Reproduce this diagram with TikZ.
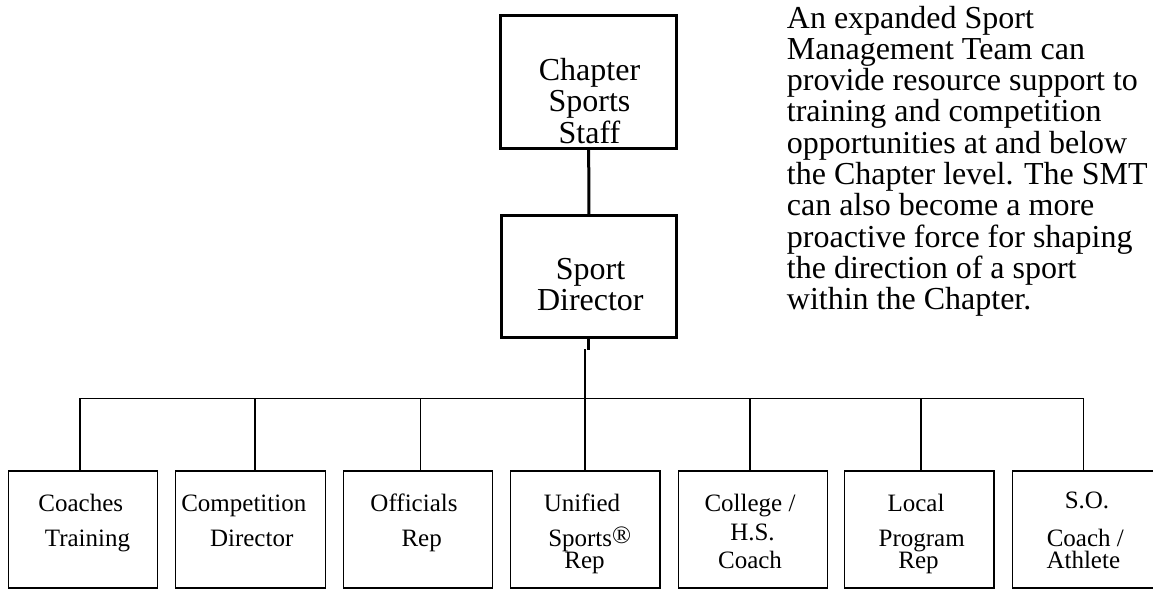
\documentclass[tikz,border=0pt]{standalone}
\usepackage{fontspec}
\setmainfont{Liberation Serif}
\usetikzlibrary{calc}
\begin{document}
\begin{tikzpicture}[x=1pt,y=-1pt,
  topbox/.style={draw,line width=3pt,inner sep=0pt},
  lowbox/.style={draw,line width=1.4pt,inner sep=0pt,minimum width=149.5pt,minimum height=117pt},
  heavy/.style={line width=3pt},
  light/.style={line width=1.4pt},
  bigtxt/.style={inner sep=0pt,anchor=base,font=\fontsize{32}{32}\selectfont},
  smalltxt/.style={inner sep=0pt,anchor=base,font=\fontsize{25}{25}\selectfont},
  para/.style={inner sep=0pt,anchor=base west,font=\fontsize{32}{32}\selectfont}]
\useasboundingbox (0,0) rectangle (1153,589);
\clip (0,0) rectangle (1153,589);

% upper boxes
\node[topbox,minimum width=176pt,minimum height=132.3pt] (cs) at (588.7,81.85) {};
\node[topbox,minimum width=174.3pt,minimum height=121.6pt] (sd) at (588.85,276.5) {};

% lower row of boxes
\node[lowbox] (b1) at (83,529.5) {};
\node[lowbox] (b2) at (250.5,529.5) {};
\node[lowbox] (b3) at (418,529.5) {};
\node[lowbox] (b4) at (585.2,529.5) {};
\node[lowbox] (b5) at (753,529.5) {};
\node[lowbox] (b6) at (919.2,529.5) {};
\node[lowbox] (b7) at (1087.3,529.5) {};

% connectors
\draw[heavy] (cs.south) -- (sd.north);
\coordinate (stub) at ($(sd.south)+(0,11)$);
\draw[heavy] (sd.south) -- (stub);

\coordinate (d1) at ($(b1.north)+(-3,0)$);
\coordinate (d2) at ($(b2.north)+(4.5,0)$);
\coordinate (d3) at ($(b3.north)+(2.7,0)$);
\coordinate (d4) at ($(b4.north)+(-0.2,0)$);
\coordinate (d5) at ($(b5.north)+(-3,0)$);
\coordinate (d6) at ($(b6.north)+(1.8,0)$);
\coordinate (d7) at ($(b7.north)+(-4,0)$);
\coordinate (busL) at ($(d1)+(0,-72)$);
\coordinate (busR) at ($(d7)+(0,-72)$);
\coordinate (hub) at ($(d4)+(0,-121)$);

\draw[light] (d1) -- (busL) -- (busR) -- (d7);
\foreach \d in {d2,d3,d5,d6}
  \draw[light] (\d) -- (\d |- busL);
\draw[light] (d4) -- (hub);

% box labels
\node[bigtxt] (cs1) at (589.5,80) {Chapter};
\node[bigtxt] (cs2) at (589.5,111.7) {Sports};
\node[bigtxt] (cs3) at (589.5,143.3) {Staff};

\node[bigtxt] (sd1) at (590.5,279) {Sport};
\node[bigtxt] (sd2) at (590.3,310.5) {Director};

\node[smalltxt] (t1a) at (80.8,511.7) {Coaches};
\node[smalltxt] (t1b) at (87.5,546.7) {Training};

\node[smalltxt] (t2a) at (243.8,511.7) {Competition};
\node[smalltxt] (t2b) at (251.7,546.7) {Director};

\node[smalltxt] (t3a) at (414,511.7) {Officials};
\node[smalltxt] (t3b) at (421.7,546.7) {Rep};

\node[smalltxt] (t4a) at (582,511.7) {Unified};
\node[smalltxt] (t4b) at (589.7,546.7) {Sports\raisebox{3.5pt}{®}};
\node[smalltxt] (t4c) at (584.5,568.3) {Rep};

\node[smalltxt] (t5a) at (750,511.7) {College /};
\node[smalltxt] (t5b) at (752.5,540.5) {H.S.};
\node[smalltxt] (t5c) at (750,568.3) {Coach};

\node[smalltxt] (t6a) at (916,511.7) {Local};
\node[smalltxt] (t6b) at (921.7,546.7) {Program};
\node[smalltxt] (t6c) at (918.5,568.3) {Rep};

\node[smalltxt] (t7a) at (1087,508.3) {S.O.};
\node[smalltxt] (t7b) at (1085.3,546.7) {Coach /};
\node[smalltxt] (t7c) at (1083.3,568.3) {Athlete};

% explanatory paragraph
\foreach \t [count=\i] in {An expanded Sport, Management Team can,
    provide resource support to, training and competition,
    opportunities at and below, the Chapter level. The SMT,
    can also become a more, proactive force for shaping,
    the direction of a sport, within the Chapter.}
  \node[para] (p\i) at (786.7,{28+(\i-1)*31.3}) {\t};
\end{tikzpicture}
\end{document}
